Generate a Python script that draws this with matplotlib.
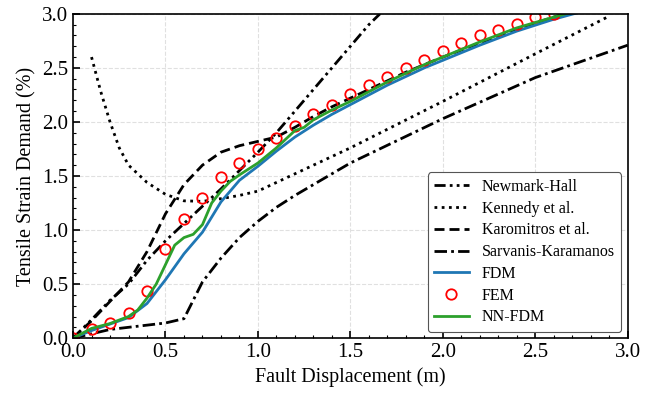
import matplotlib
matplotlib.use('Agg')
import matplotlib.pyplot as plt
from matplotlib.ticker import MultipleLocator

# Newmark-Hall
nh_x = [0.0, 0.1, 0.2, 0.3, 0.4, 0.5, 0.6, 0.7, 0.8, 0.9, 1.0, 1.1, 1.2, 1.3, 1.4, 1.5, 1.6, 1.66]
nh_y = [0.0, 0.17, 0.35, 0.5, 0.72, 0.9, 1.06, 1.22, 1.38, 1.55, 1.72, 1.9, 2.1, 2.3, 2.5, 2.7, 2.9, 3.0]

# Kennedy et al.
ke_x = [0.1, 0.15, 0.2, 0.25, 0.3, 0.4, 0.5, 0.6, 0.7, 0.8, 0.9, 1.0, 1.1, 1.2, 1.5, 2.0, 2.5, 2.89]
ke_y = [2.6, 2.28, 2.0, 1.76, 1.6, 1.44, 1.33, 1.27, 1.265, 1.29, 1.32, 1.36, 1.44, 1.52, 1.76, 2.19, 2.63, 2.97]

# Karomitros et al.
ka_x = [0.0, 0.1, 0.2, 0.3, 0.4, 0.5, 0.6, 0.7, 0.8, 0.9, 1.0, 1.1, 1.2, 1.3, 1.4, 1.5, 1.6, 1.7,
        1.8, 1.9, 2.0, 2.2, 2.4, 2.6, 2.75]
ka_y = [0.0, 0.16, 0.34, 0.52, 0.8, 1.15, 1.42, 1.6, 1.72, 1.78, 1.82, 1.86, 1.95, 2.05, 2.14, 2.22, 2.3,
        2.38, 2.46, 2.53, 2.6, 2.73, 2.86, 2.97, 3.05]

# Sarvanis-Karamanos
sk_x = [0.0, 0.1, 0.2, 0.3, 0.4, 0.5, 0.6, 0.7, 0.8, 0.9, 1.0, 1.1, 1.2, 1.3, 1.4, 1.5, 2.0, 2.5, 3.0]
sk_y = [0.0, 0.04, 0.08, 0.1, 0.12, 0.14, 0.18, 0.52, 0.74, 0.93, 1.08, 1.21, 1.32, 1.42, 1.52, 1.62, 2.03, 2.41, 2.71]

# FDM
fdm_x = [0.0, 0.1, 0.2, 0.3, 0.4, 0.5, 0.6, 0.7, 0.8, 0.9, 1.0, 1.1, 1.2, 1.3, 1.4, 1.5, 1.6, 1.7,
         1.8, 1.9, 2.0, 2.2, 2.4, 2.6, 2.75]
fdm_y = [0.0, 0.07, 0.13, 0.19, 0.32, 0.54, 0.78, 0.98, 1.26, 1.46, 1.59, 1.73, 1.86, 1.97, 2.07, 2.16, 2.25,
         2.34, 2.42, 2.5, 2.57, 2.71, 2.84, 2.95, 3.02]

# FEM
fem_x = [0.0, 0.1, 0.2, 0.3, 0.4, 0.5, 0.6, 0.7, 0.8, 0.9, 1.0, 1.1, 1.2, 1.3, 1.4, 1.5, 1.6, 1.7,
         1.8, 1.9, 2.0, 2.1, 2.2, 2.3, 2.4, 2.5, 2.6]
fem_y = [0.0, 0.08, 0.14, 0.23, 0.44, 0.82, 1.1, 1.3, 1.49, 1.62, 1.75, 1.85, 1.96, 2.07, 2.16, 2.26, 2.34,
         2.42, 2.5, 2.57, 2.66, 2.73, 2.8, 2.85, 2.91, 2.97, 3.0]

# NN-FDM
nn_x = [0.0, 0.1, 0.2, 0.3, 0.35, 0.4, 0.45, 0.5, 0.55, 0.6, 0.65, 0.7, 0.75, 0.8, 0.85, 0.9, 1.0, 1.1,
        1.2, 1.25, 1.3, 1.4, 1.5, 1.6, 1.7, 1.8, 1.9, 2.0, 2.2, 2.4, 2.6, 2.75]
nn_y = [0.0, 0.09, 0.135, 0.2, 0.26, 0.37, 0.5, 0.68, 0.86, 0.93, 0.96, 1.05, 1.25, 1.36, 1.45, 1.51, 1.62, 1.76,
        1.92, 1.95, 2.02, 2.11, 2.19, 2.28, 2.37, 2.45, 2.53, 2.6, 2.74, 2.87, 2.97, 3.04]


def main():
    plt.rcParams['font.family'] = ['Liberation Serif', 'DejaVu Serif']
    plt.rcParams['mathtext.fontset'] = 'stix'

    fig = plt.figure(figsize=(6.58, 3.95), dpi=100)
    ax = fig.add_axes([0.111, 0.144, 0.843, 0.821])

    lw = 2.0
    ax.plot(nh_x, nh_y, color='black', lw=lw, linestyle=(0, (4, 1.5, 1, 1.5, 1, 1.5)), label='Newmark-Hall')
    ax.plot(ke_x, ke_y, color='black', lw=lw, linestyle=(0, (1, 1.6)), label='Kennedy et al.')
    ax.plot(ka_x, ka_y, color='black', lw=lw, linestyle=(0, (3.6, 1.8)), label='Karomitros et al.')
    ax.plot(sk_x, sk_y, color='black', lw=lw, linestyle=(0, (4.5, 1.5, 1, 1.5)), label='Sarvanis-Karamanos')
    ax.plot(fdm_x, fdm_y, color='#1f77b4', lw=lw, label='FDM')
    ax.plot(fem_x, fem_y, 'o', mfc='none', mec='red', ms=7.5, mew=1.3, label='FEM')
    ax.plot(nn_x, nn_y, color='#2ca02c', lw=lw, label='NN-FDM')

    ax.set_xlim(0, 3.0)
    ax.set_ylim(0, 3.0)
    ax.xaxis.set_major_locator(MultipleLocator(0.5))
    ax.yaxis.set_major_locator(MultipleLocator(0.5))
    ax.xaxis.set_minor_locator(MultipleLocator(0.1))
    ax.yaxis.set_minor_locator(MultipleLocator(0.1))
    ax.tick_params(which='both', direction='in', labelsize=15)
    ax.tick_params(which='major', length=5, width=1.2)
    ax.tick_params(which='minor', length=2.5, width=0.8)
    for s in ax.spines.values():
        s.set_linewidth(1.2)

    ax.grid(True, which='major', linestyle='--', color='#e0e0e0', linewidth=0.8)
    ax.set_xlabel('Fault Displacement (m)', fontsize=14.5)
    ax.set_ylabel('Tensile Strain Demand (%)', fontsize=14.5)

    leg = ax.legend(loc='lower right', fontsize=11.5, handlelength=2.2, borderaxespad=0.4,
                    labelspacing=0.36, fancybox=True, framealpha=1.0, edgecolor='#555555')
    leg.get_frame().set_linewidth(0.8)

    plt.savefig('out.png', dpi=100)


if __name__ == '__main__':
    main()
